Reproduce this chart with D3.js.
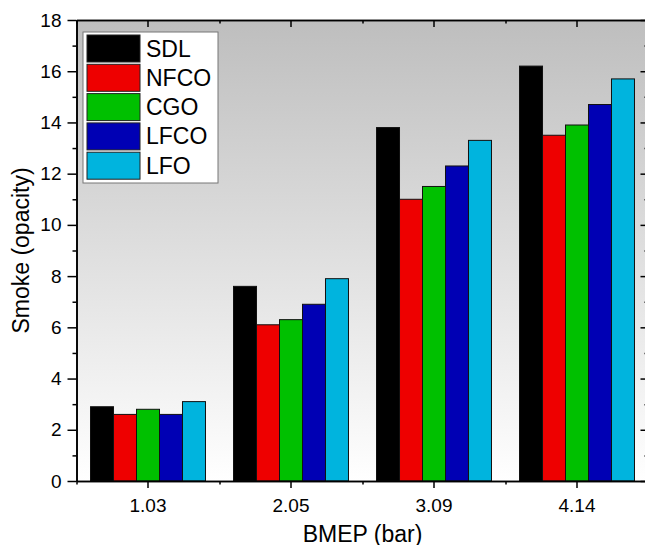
<!DOCTYPE html>
<html>
<head>
<meta charset="utf-8">
<script src="https://cdn.jsdelivr.net/npm/d3@7"></script>
<style>
  html, body { margin: 0; padding: 0; background: #ffffff; }
  svg { display: block; }
  text { font-family: "Liberation Sans", Arial, sans-serif; fill: #000; }
</style>
</head>
<body>
<svg id="chart" width="645" height="545"></svg>
<script>
// ---- data ----
const categories = ["1.03", "2.05", "3.09", "4.14"];
const seriesNames = ["SDL", "NFCO", "CGO", "LFCO", "LFO"];
const SDL  = [2.9, 7.6, 13.8, 16.2];
const NFCO = [2.6, 6.1, 11.0, 13.5];
const CGO  = [2.8, 6.3, 11.5, 13.9];
const LFCO = [2.6, 6.9, 12.3, 14.7];
const LFO  = [3.1, 7.9, 13.3, 15.7];
const seriesColors = ["#000000", "#ee0000", "#00c000", "#0000b4", "#00b4de"];
const yMajorTicks = [0, 2, 4, 6, 8, 10, 12, 14, 16, 18];
const yMinorTicks = [1, 3, 5, 7, 9, 11, 13, 15, 17];
const xTitle = "BMEP (bar)";
const yTitle = "Smoke (opacity)";

const seriesValues = [SDL, NFCO, CGO, LFCO, LFO];

// ---- layout ----
const pLeft = 76.5, pRight = 648.5, pTop = 20, pBottom = 481;
const svg = d3.select("#chart");

const defs = svg.append("defs");
const grad = defs.append("linearGradient").attr("id", "bg").attr("x1", 0).attr("y1", 0).attr("x2", 0).attr("y2", 1);
grad.append("stop").attr("offset", "0%").attr("stop-color", "#bebebe");
grad.append("stop").attr("offset", "100%").attr("stop-color", "#ffffff");

const x0 = d3.scaleBand().domain(categories).range([pLeft, pRight]).paddingInner(0.196).paddingOuter(0.098);
const x1 = d3.scaleBand().domain(seriesNames).range([0, x0.bandwidth()]).padding(0);
const y = d3.scaleLinear().domain([0, 18]).range([pBottom, pTop]);
const xb = d3.scaleLinear().domain([0, categories.length]).range([pLeft, pRight]);

// plot background
svg.append("rect").attr("x", pLeft).attr("y", pTop).attr("width", pRight - pLeft).attr("height", pBottom - pTop)
  .attr("fill", "url(#bg)");

// bars
const groups = svg.append("g").selectAll("g").data(categories).join("g")
  .attr("transform", d => `translate(${x0(d)},0)`);
groups.selectAll("rect")
  .data((c, ci) => seriesNames.map((s, si) => ({ s, si, v: seriesValues[si][ci] })))
  .join("rect")
  .attr("x", d => x1(d.s))
  .attr("y", d => y(d.v))
  .attr("width", x1.bandwidth())
  .attr("height", d => y(0) - y(d.v))
  .attr("fill", d => seriesColors[d.si])
  .attr("stroke", "#111")
  .attr("stroke-width", 1);

function styleAxis(g) {
  g.selectAll("path.domain").attr("stroke", "#000").attr("stroke-width", 1.6);
  g.selectAll(".tick line").attr("stroke", "#000").attr("stroke-width", 1.5);
  g.selectAll(".tick text").style("font-family", "'Liberation Sans', Arial, sans-serif").style("font-size", "19px").attr("fill", "#000");
}

// left axis
svg.append("g").attr("transform", `translate(${pLeft},0)`)
  .call(d3.axisLeft(y).tickValues(yMinorTicks).tickSize(4).tickFormat("").tickSizeOuter(0)).call(styleAxis);
svg.append("g").attr("transform", `translate(${pLeft},0)`)
  .call(d3.axisLeft(y).tickValues(yMajorTicks).tickSize(9).tickPadding(6).tickSizeOuter(0)).call(styleAxis);

// right axis (ticks inward)
svg.append("g").attr("transform", `translate(${pRight},0)`)
  .call(d3.axisLeft(y).tickValues(yMinorTicks).tickSize(4).tickFormat("").tickSizeOuter(0)).call(styleAxis);
svg.append("g").attr("transform", `translate(${pRight},0)`)
  .call(d3.axisLeft(y).tickValues(yMajorTicks).tickSize(8).tickFormat("").tickSizeOuter(0)).call(styleAxis);

// bottom axis
svg.append("g").attr("transform", `translate(0,${pBottom})`)
  .call(d3.axisBottom(xb).tickValues(d3.range(categories.length + 1)).tickSize(3.5).tickFormat("").tickSizeOuter(0)).call(styleAxis);
const xAxisScale = d3.scaleBand().domain(categories).range([pLeft, pRight]);
svg.append("g").attr("transform", `translate(0,${pBottom})`)
  .call(d3.axisBottom(xAxisScale).tickSize(7).tickPadding(11).tickSizeOuter(0)).call(styleAxis);

// top axis (ticks inward)
svg.append("g").attr("transform", `translate(0,${pTop})`)
  .call(d3.axisBottom(xb).tickValues(d3.range(categories.length + 1)).tickSize(3.5).tickFormat("").tickSizeOuter(0)).call(styleAxis);
svg.append("g").attr("transform", `translate(0,${pTop})`)
  .call(d3.axisBottom(xAxisScale).tickSize(7).tickFormat("").tickSizeOuter(0)).call(styleAxis);

// axis titles
svg.append("text").attr("x", (pLeft + pRight) / 2).attr("y", 541.5).attr("text-anchor", "middle")
  .style("font-size", "23px").text(xTitle);
svg.append("text").attr("transform", `translate(29,${(pTop + pBottom) / 2}) rotate(-90)`).attr("text-anchor", "middle")
  .style("font-size", "23px").text(yTitle);

// legend
const lg = svg.append("g");
lg.append("rect").attr("x", 83).attr("y", 32).attr("width", 135).attr("height", 151)
  .attr("fill", "#ffffff").attr("stroke", "#777").attr("stroke-width", 1);
const rowH = 29.3;
const items = lg.selectAll("g.item").data(seriesNames).join("g").attr("class", "item")
  .attr("transform", (d, i) => `translate(87,${35 + i * rowH})`);
items.append("rect").attr("width", 53).attr("height", 27)
  .attr("fill", (d, i) => seriesColors[i]).attr("stroke", "#222").attr("stroke-width", 1);
items.append("text").attr("x", 59).attr("y", 21.5).style("font-size", "23px").text(d => d);
</script>
</body>
</html>
